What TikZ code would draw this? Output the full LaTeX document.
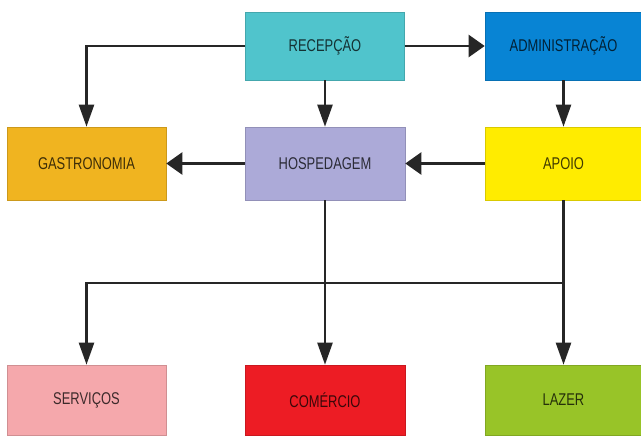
\documentclass[tikz,border=0pt]{standalone}
\usepackage{fontspec}
\setmainfont{Liberation Sans}[FakeStretch=0.76]
\usetikzlibrary{arrows.meta}
\definecolor{cRec}{RGB}{80,196,204}
\definecolor{cAdm}{RGB}{8,132,212}
\definecolor{cGas}{RGB}{240,180,32}
\definecolor{cHos}{RGB}{172,170,216}
\definecolor{cApo}{RGB}{255,236,0}
\definecolor{cSer}{RGB}{245,168,172}
\definecolor{cCom}{RGB}{237,28,36}
\definecolor{cLaz}{RGB}{152,196,40}
\begin{document}
\begin{tikzpicture}[x=1pt,y=-1pt,
  box/.style={draw=#1!85!black, line width=0.6pt, fill=#1, text=#1!25!black,
    minimum width=159pt, inner sep=0pt, font=\fontsize{17}{17}\selectfont},
  conn/.style={line width=2.4pt, draw=black!85},
  va/.style={conn, -{Triangle[length=22pt,width=15pt]}},
  ha/.style={conn, -{Triangle[length=16pt,width=22pt]}}]
\fill[white] (0,0) rectangle (641,436);
\useasboundingbox (0,0) rectangle (641,436);
% top row
\node[box=cRec, minimum height=68pt] (rec) at (325,46) {RECEPÇÃO};
\node[box=cAdm, minimum height=68pt, minimum width=157pt] (adm) at (563.5,46) {ADMINISTRAÇÃO};
% middle row
\node[box=cGas, minimum height=73pt] (gas) at (86.5,163.5) {GASTRONOMIA};
\node[box=cHos, minimum height=73pt, minimum width=160pt] (hos) at (325,163.5) {HOSPEDAGEM};
\node[box=cApo, minimum height=73pt, minimum width=157pt] (apo) at (563.5,163.5) {APOIO};
% bottom row
\node[box=cSer, minimum height=70pt] (ser) at (86.5,400) {SERVIÇOS};
\node[box=cCom, minimum height=70pt, minimum width=160pt] (com) at (325,400) {COMÉRCIO};
\node[box=cLaz, minimum height=70pt, minimum width=157pt] (laz) at (563.5,400) {LAZER};
\coordinate (bus) at (0,283);
% connectors
\draw[va] (rec.west) -| (gas.north);
\draw[ha] (rec.east) -- (adm.west);
\draw[va] (rec.south) -- (hos.north);
\draw[va] (adm.south) -- (apo.north);
\draw[ha] (apo.west) -- (hos.east);
\draw[ha] (hos.west) -- (gas.east);
\draw[va] (hos.south) -- (com.north);
\draw[va] (apo.south) -- (laz.north);
\draw[va] (apo.south |- bus) -| (ser.north);
\end{tikzpicture}
\end{document}
